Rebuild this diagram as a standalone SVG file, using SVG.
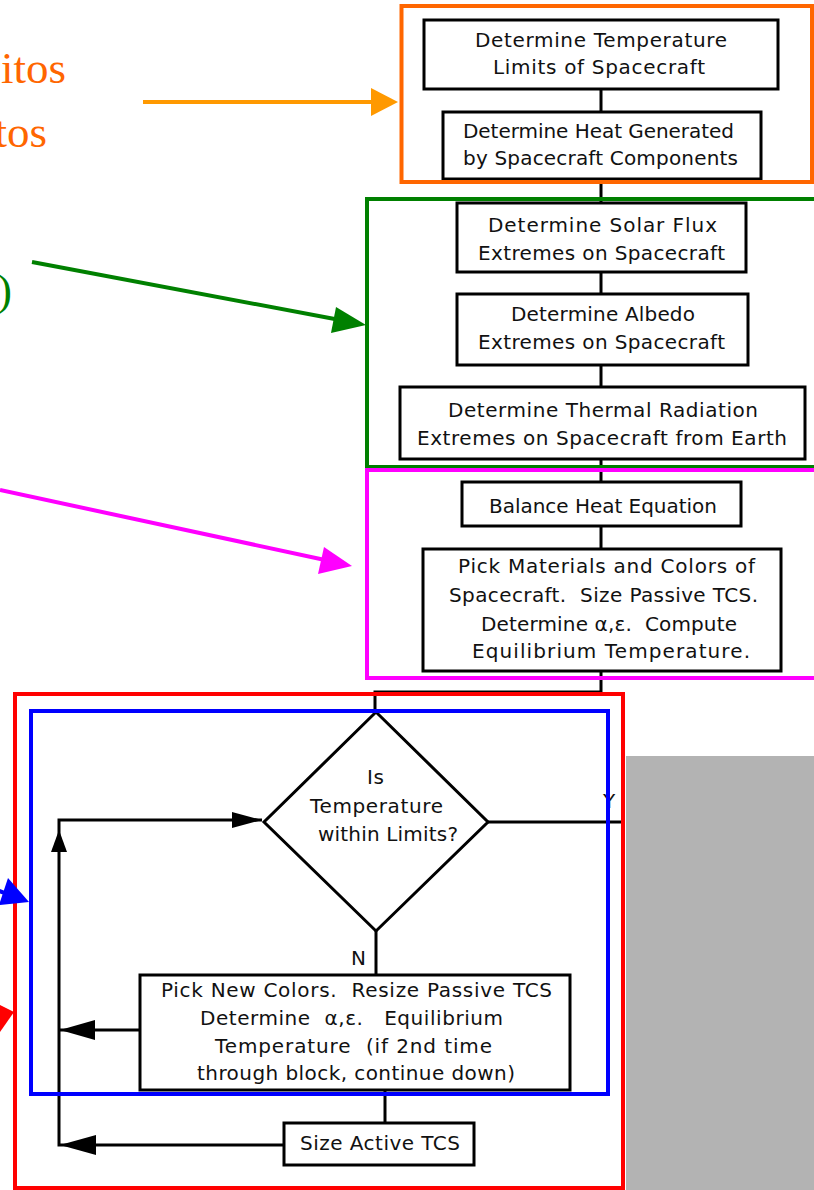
<svg xmlns="http://www.w3.org/2000/svg" width="814" height="1190" viewBox="0 0 814 1190">
<style>
.box{fill:#fff;stroke:#000;stroke-width:3}
.ln{fill:none;stroke:#000;stroke-width:3}
.t{font-family:"DejaVu Sans",sans-serif;font-size:20px;fill:#111;white-space:pre}
.big{font-family:"Liberation Serif",serif;font-size:45px}
.frame{fill:none;stroke-width:4}
</style>
<rect x="0" y="0" width="814" height="1190" fill="#fff"/>
<rect x="626" y="756" width="188" height="434" fill="#b3b3b3"/>
<text class="big" x="66" y="83" text-anchor="end" fill="#ff6600">itos</text>
<text class="big" x="47" y="147" text-anchor="end" fill="#ff6600">tos</text>
<text class="big" x="12" y="305" text-anchor="end" fill="#008000" font-size="50">)</text>
<g id="connectors">
<path class="ln" d="M601 89V112M601 179V203M601 272V294M601 365V387M601 459V482M601 526V549M601 671V692H375V712"/>
<path class="ln" d="M488 822H621"/>
<path class="ln" d="M376 931V975"/>
<path class="ln" d="M385 1090V1123"/>
<path class="ln" d="M284 1145H59V820H262"/>
<path class="ln" d="M140 1030H59"/>
<polygon points="262,820 232,812 232,828"/>
<polygon points="59,830 51,852 67,852"/>
<polygon points="60,1030 95,1020 95,1040"/>
<polygon points="60,1145 96,1135 96,1155"/>
</g>
<g id="n1"><rect class="box" x="424" y="20" width="354" height="69"/>
<text class="t" x="475" y="47" textLength="252">Determine Temperature</text>
<text class="t" x="493" y="74" textLength="212">Limits of Spacecraft</text></g>
<g id="n2"><rect class="box" x="443" y="112" width="318" height="67"/>
<text class="t" x="463" y="138" textLength="271">Determine Heat Generated</text>
<text class="t" x="463" y="165" textLength="275">by Spacecraft Components</text></g>
<g id="n3"><rect class="box" x="457" y="203" width="289" height="69"/>
<text class="t" x="488" y="232" textLength="229">Determine Solar Flux</text>
<text class="t" x="478" y="260" textLength="247">Extremes on Spacecraft</text></g>
<g id="n4"><rect class="box" x="457" y="294" width="291" height="71"/>
<text class="t" x="511" y="321" textLength="184">Determine Albedo</text>
<text class="t" x="478" y="349" textLength="247">Extremes on Spacecraft</text></g>
<g id="n5"><rect class="box" x="400" y="387" width="405" height="72"/>
<text class="t" x="448" y="417" textLength="310">Determine Thermal Radiation</text>
<text class="t" x="417" y="445" textLength="370">Extremes on Spacecraft from Earth</text></g>
<g id="n6"><rect class="box" x="462" y="482" width="279" height="44"/>
<text class="t" x="489" y="513" textLength="228">Balance Heat Equation</text></g>
<g id="n7"><rect class="box" x="423" y="549" width="358" height="122"/>
<text class="t" x="458" y="573" textLength="297">Pick Materials and Colors of</text>
<text class="t" x="449" y="602" textLength="309">Spacecraft.  Size Passive TCS.</text>
<text class="t" x="481" y="631" textLength="256">Determine α,ε.  Compute</text>
<text class="t" x="472" y="658" textLength="278">Equilibrium Temperature.</text></g>
<g id="n8"><polygon class="box" points="376,712 488,822 376,931 264,822"/>
<text class="t" x="367" y="784" textLength="17">Is</text>
<text class="t" x="310" y="813" textLength="133">Temperature</text>
<text class="t" x="318" y="841" textLength="140">within Limits?</text></g>
<text class="t" x="351" y="965">N</text>
<text class="t" x="603" y="808">Y</text>
<g id="n9"><rect class="box" x="140" y="975" width="430" height="115"/>
<text class="t" x="161" y="997" textLength="391">Pick New Colors.  Resize Passive TCS</text>
<text class="t" x="200" y="1025" textLength="303">Determine  α,ε.   Equilibrium</text>
<text class="t" x="215" y="1053" textLength="277">Temperature  (if 2nd time</text>
<text class="t" x="197" y="1080" textLength="318">through block, continue down)</text></g>
<g id="n10"><rect class="box" x="284" y="1123" width="190" height="42"/>
<text class="t" x="300" y="1150" textLength="160">Size Active TCS</text></g>
<g id="frames">
<rect class="frame" x="401.5" y="6" width="410.5" height="176" stroke="#ff6600"/>
<rect class="frame" x="367" y="199" width="460" height="268" stroke="#008000"/>
<rect class="frame" x="367" y="470" width="460" height="208" stroke="#ff00ff"/>
<rect class="frame" x="15" y="694" width="608" height="494" stroke="#ff0000"/>
<rect class="frame" x="31" y="711" width="577" height="383" stroke="#0000ff"/>
</g>
<g id="pointers">
<line x1="143" y1="102" x2="372" y2="102" stroke="#ff9900" stroke-width="4"/>
<polygon points="398,102 371,88 371,116" fill="#ff9900"/>
<line x1="32" y1="262" x2="340" y2="320" stroke="#008000" stroke-width="4"/>
<polygon points="366,325 336,307 331,333" fill="#008000"/>
<line x1="0" y1="490" x2="325" y2="560" stroke="#ff00ff" stroke-width="4"/>
<polygon points="352,566 324,547 318,574" fill="#ff00ff"/>
<line x1="-30" y1="880" x2="10" y2="895" stroke="#0000ff" stroke-width="4"/>
<polygon points="29,902 8,878 -1,905" fill="#0000ff"/>
<line x1="-30" y1="1028" x2="0" y2="1018" stroke="#ff0000" stroke-width="4"/>
<polygon points="14,1012 -8,1001 0,1032" fill="#ff0000"/>
</g>
</svg>
